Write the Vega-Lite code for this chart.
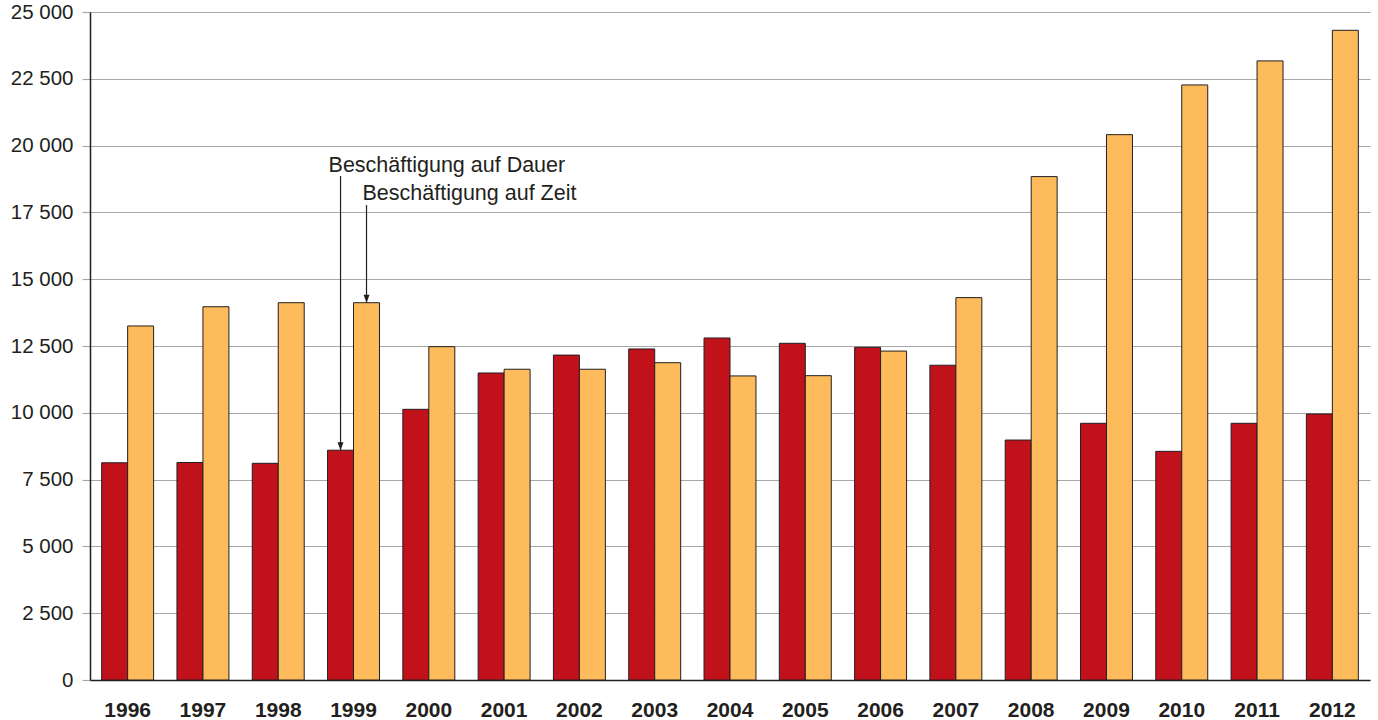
{
  "$schema": "https://vega.github.io/schema/vega-lite/v6.json",
  "width": 1280,
  "height": 668,
  "autosize": {"type": "none"},
  "padding": {"left": 90, "top": 12, "right": 8, "bottom": 40},
  "background": "white",
  "config": {
    "view": {"stroke": null},
    "font": "Liberation Sans",
    "axis": {"labelFont": "Liberation Sans", "labelColor": "#231f20"}
  },
  "datasets": {
    "bars": [
      {"year": "1996", "series": "Beschäftigung auf Dauer", "value": 8130},
      {"year": "1996", "series": "Beschäftigung auf Zeit", "value": 13250},
      {"year": "1997", "series": "Beschäftigung auf Dauer", "value": 8140},
      {"year": "1997", "series": "Beschäftigung auf Zeit", "value": 13970},
      {"year": "1998", "series": "Beschäftigung auf Dauer", "value": 8110},
      {"year": "1998", "series": "Beschäftigung auf Zeit", "value": 14120},
      {"year": "1999", "series": "Beschäftigung auf Dauer", "value": 8600},
      {"year": "1999", "series": "Beschäftigung auf Zeit", "value": 14120},
      {"year": "2000", "series": "Beschäftigung auf Dauer", "value": 10130},
      {"year": "2000", "series": "Beschäftigung auf Zeit", "value": 12475},
      {"year": "2001", "series": "Beschäftigung auf Dauer", "value": 11490},
      {"year": "2001", "series": "Beschäftigung auf Zeit", "value": 11630},
      {"year": "2002", "series": "Beschäftigung auf Dauer", "value": 12160},
      {"year": "2002", "series": "Beschäftigung auf Zeit", "value": 11630},
      {"year": "2003", "series": "Beschäftigung auf Dauer", "value": 12390},
      {"year": "2003", "series": "Beschäftigung auf Zeit", "value": 11875},
      {"year": "2004", "series": "Beschäftigung auf Dauer", "value": 12800},
      {"year": "2004", "series": "Beschäftigung auf Zeit", "value": 11380},
      {"year": "2005", "series": "Beschäftigung auf Dauer", "value": 12600},
      {"year": "2005", "series": "Beschäftigung auf Zeit", "value": 11390},
      {"year": "2006", "series": "Beschäftigung auf Dauer", "value": 12450},
      {"year": "2006", "series": "Beschäftigung auf Zeit", "value": 12310},
      {"year": "2007", "series": "Beschäftigung auf Dauer", "value": 11780},
      {"year": "2007", "series": "Beschäftigung auf Zeit", "value": 14310},
      {"year": "2008", "series": "Beschäftigung auf Dauer", "value": 8980},
      {"year": "2008", "series": "Beschäftigung auf Zeit", "value": 18840},
      {"year": "2009", "series": "Beschäftigung auf Dauer", "value": 9607},
      {"year": "2009", "series": "Beschäftigung auf Zeit", "value": 20410},
      {"year": "2010", "series": "Beschäftigung auf Dauer", "value": 8558},
      {"year": "2010", "series": "Beschäftigung auf Zeit", "value": 22270},
      {"year": "2011", "series": "Beschäftigung auf Dauer", "value": 9607},
      {"year": "2011", "series": "Beschäftigung auf Zeit", "value": 23170},
      {"year": "2012", "series": "Beschäftigung auf Dauer", "value": 9955},
      {"year": "2012", "series": "Beschäftigung auf Zeit", "value": 24315}
    ],
    "notes": [
      {"year": "1999", "series": "Beschäftigung auf Dauer", "label": "Beschäftigung auf Dauer", "textY": 19023, "top": 18862, "tip": 8600},
      {"year": "1999", "series": "Beschäftigung auf Zeit", "label": "Beschäftigung auf Zeit", "textY": 17964, "top": 17777, "tip": 14120}
    ]
  },
  "encoding": {
    "x": {
      "field": "year", "type": "nominal",
      "scale": {"paddingInner": 0.31, "paddingOuter": 0.155},
      "axis": {
        "title": null, "labelAngle": 0, "ticks": false,
        "labelFontSize": 21, "labelFontWeight": "bold", "labelPadding": 19,
        "domainColor": "#231f20", "domainWidth": 1.5
      }
    },
    "xOffset": {
      "field": "series", "type": "nominal",
      "scale": {"domain": ["Beschäftigung auf Dauer", "Beschäftigung auf Zeit"], "paddingInner": 0, "paddingOuter": 0}
    }
  },
  "layer": [
    {
      "data": {"name": "bars"},
      "mark": {"type": "bar", "stroke": "#231f20", "strokeWidth": 1},
      "encoding": {
        "y": {
          "field": "value", "type": "quantitative",
          "scale": {"domain": [0, 25000], "nice": false},
          "axis": {
            "title": null,
            "values": [0, 2500, 5000, 7500, 10000, 12500, 15000, 17500, 20000, 22500, 25000],
            "labelExpr": "replace(format(datum.value, ','), ',', ' ')",
            "labelFontSize": 20.5, "labelPadding": 9,
            "grid": true, "gridColor": "#a7a7a7", "gridWidth": 1.2,
            "tickColor": "#a7a7a7", "tickSize": 8, "tickWidth": 1.2,
            "domainColor": "#231f20", "domainWidth": 1.5
          }
        },
        "color": {
          "field": "series", "type": "nominal",
          "scale": {"domain": ["Beschäftigung auf Dauer", "Beschäftigung auf Zeit"], "range": ["#c1121c", "#fdbb5b"]},
          "legend": null
        }
      }
    },
    {
      "data": {"name": "notes"},
      "mark": {"type": "rule", "color": "#231f20", "strokeWidth": 1.2},
      "encoding": {
        "y": {"field": "top", "type": "quantitative"},
        "y2": {"field": "tip"}
      }
    },
    {
      "data": {"name": "notes"},
      "mark": {"type": "point", "shape": "M-0.75,-2L0.75,-2L0,0Z", "size": 64, "filled": true, "color": "#231f20", "opacity": 1},
      "encoding": {
        "y": {"field": "tip", "type": "quantitative"}
      }
    },
    {
      "data": {"name": "notes"},
      "transform": [{"filter": "datum.series === 'Beschäftigung auf Dauer'"}],
      "mark": {"type": "text", "align": "left", "baseline": "alphabetic", "fontSize": 21.5, "color": "#231f20", "dx": -12},
      "encoding": {
        "y": {"field": "textY", "type": "quantitative"},
        "text": {"field": "label"}
      }
    },
    {
      "data": {"name": "notes"},
      "transform": [{"filter": "datum.series === 'Beschäftigung auf Zeit'"}],
      "mark": {"type": "text", "align": "left", "baseline": "alphabetic", "fontSize": 21.5, "color": "#231f20", "dx": -4},
      "encoding": {
        "y": {"field": "textY", "type": "quantitative"},
        "text": {"field": "label"}
      }
    }
  ]
}
